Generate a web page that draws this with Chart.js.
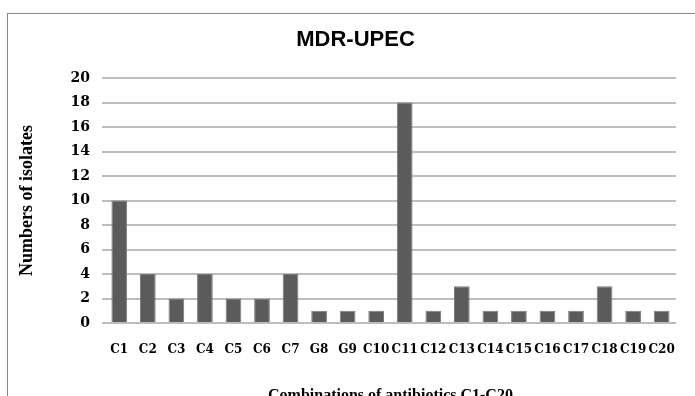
<!DOCTYPE html>
<html>
<head>
<meta charset="utf-8">
<script src="https://cdn.jsdelivr.net/npm/chart.js@4"></script>
<style>
  html, body { margin: 0; padding: 0; background: #fff; overflow: hidden; }
  #wrap { position: relative; width: 695px; height: 396px; overflow: hidden; }
  #cadre { position: absolute; left: 7px; top: 13px; width: 720px; height: 420px; border: 1.5px solid #8a8a8a; }
  canvas { position: absolute; left: 0; top: 0; }
</style>
</head>
<body>
<div id="wrap">
  <div id="cadre"></div>
  <canvas id="grafico" width="695" height="410"></canvas>
</div>
<script>
// dados
const combinacoes = ["C1", "C2", "C3", "C4", "C5", "C6", "C7", "G8", "G9", "C10",
  "C11", "C12", "C13", "C14", "C15", "C16", "C17", "C18", "C19", "C20"];
const isolados = [10, 4, 2, 4, 2, 2, 4, 1, 1, 1, 18, 1, 3, 1, 1, 1, 1, 3, 1, 1];
const ticksY = [0, 2, 4, 6, 8, 10, 12, 14, 16, 18, 20];

const titulo = "MDR-UPEC";
const tituloX = "Combinations of antibiotics C1-C20";
const tituloY = "Numbers of isolates";

const ALTURA = 410;
const AREA_BAIXO = 323;

document.addEventListener("DOMContentLoaded", () => {
  const canvas = document.getElementById("grafico");

  new Chart(canvas.getContext("2d"), {
    type: "bar",
    data: {
      labels: combinacoes,
      datasets: [{
        label: "Isolados",
        data: isolados,
        backgroundColor: "#5b5b5b",
        borderColor: "#7a7a7a",
        borderWidth: 1,
        barPercentage: 0.55,
        categoryPercentage: 1
      }]
    },
    options: {
      responsive: false,
      animation: false,
      layout: { padding: { left: 25, right: 9, top: 0, bottom: 0 } },
      plugins: {
        legend: { display: false },
        tooltip: { enabled: false },
        title: {
          display: true,
          text: titulo,
          color: "#000",
          font: { family: "'Liberation Sans', Arial, sans-serif", size: 22, weight: "bold" },
          padding: { top: 27, bottom: 24.6 }
        }
      },
      scales: {
        x: {
          grid: { display: false, drawTicks: false },
          border: { display: true, color: "#bdbdbd", width: 2 },
          ticks: {
            color: "#000",
            padding: 20,
            autoSkip: false,
            maxRotation: 0,
            font: { family: "'DejaVu Serif', serif", size: 12, weight: "bold" }
          },
          title: {
            display: true,
            text: tituloX,
            color: "#000",
            font: { family: "'Liberation Serif', 'Times New Roman', serif", size: 16, weight: "bold" },
            padding: { top: 0, bottom: 5 }
          },
          afterFit: (scale) => { scale.height = ALTURA - AREA_BAIXO; }
        },
        y: {
          min: 0,
          max: 20,
          afterBuildTicks: (scale) => { scale.ticks = ticksY.map(v => ({ value: v })); },
          grid: { color: "#bdbdbd", lineWidth: 2, drawTicks: true, tickLength: 3 },
          border: { display: false },
          ticks: {
            color: "#000",
            padding: 12,
            font: { family: "'DejaVu Serif', serif", size: 14, weight: "bold" }
          },
          title: {
            display: true,
            text: tituloY,
            color: "#000",
            font: { family: "'Liberation Serif', 'Times New Roman', serif", size: 18, weight: "bold" },
            padding: { top: -8, bottom: 0 }
          },
          afterFit: (scale) => { scale.width = 80; }
        }
      }
    }
  });
});
</script>
</body>
</html>
